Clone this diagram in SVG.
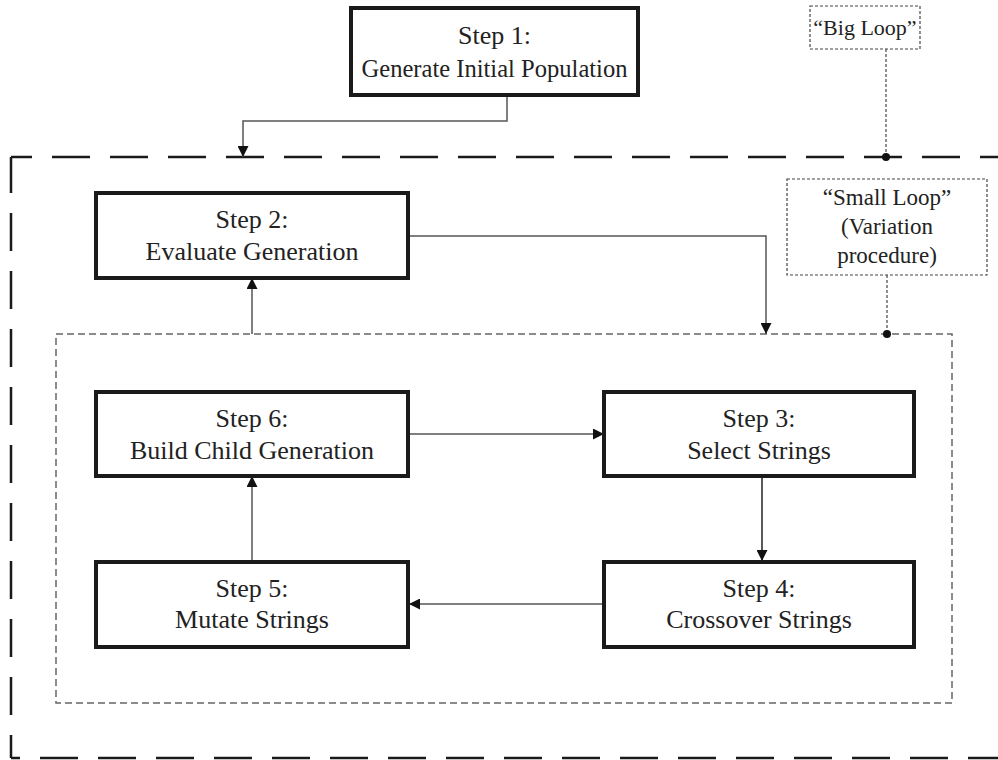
<svg xmlns="http://www.w3.org/2000/svg" width="998" height="760" viewBox="0 0 998 760">
<style>
.box{fill:#fff;stroke:#1a1a1a;stroke-width:4}
.t{font-family:"Liberation Serif","Times New Roman",serif;font-size:26px;fill:#222;text-anchor:middle}
.n{font-family:"Liberation Serif","Times New Roman",serif;font-size:23px;fill:#222;text-anchor:middle}
.c{fill:none;stroke:#555;stroke-width:1.5}
.big{fill:none;stroke:#1a1a1a;stroke-width:2.5;stroke-dasharray:38 20}
.lead{fill:none;stroke:#555;stroke-width:1.3;stroke-dasharray:3 2}
.note{fill:#fff;stroke:#444;stroke-width:1.2;stroke-dasharray:3 2}
</style>
<defs>
<marker id="ah" viewBox="0 0 10 10" refX="10" refY="5" markerWidth="11" markerHeight="11" markerUnits="userSpaceOnUse" orient="auto">
<path d="M0,0 L10,5 L0,10 z" fill="#111"/>
</marker>
</defs>
<g id="big-loop">
<line class="big" x1="11" y1="157" x2="998" y2="157" stroke-dashoffset="17"/>
<line class="big" x1="11" y1="157" x2="11" y2="758" stroke-dashoffset="2"/>
<line class="big" x1="11" y1="758" x2="998" y2="758" stroke-dashoffset="29"/>
</g>
<g id="small-loop">
<rect x="56" y="334" width="896" height="369" fill="none" stroke="#666" stroke-width="1.5" stroke-dasharray="7 4"/>
</g>
<g id="connectors">
<path class="c" d="M507,95 V121 H243 V157" marker-end="url(#ah)"/>
<path class="c" d="M408,236 H766 V334" marker-end="url(#ah)"/>
<path class="c" d="M252,334 V278" marker-end="url(#ah)"/>
<path class="c" d="M408,434 H604" marker-end="url(#ah)"/>
<path class="c" d="M762,476 V561" marker-end="url(#ah)" style="stroke:#222"/>
<path class="c" d="M603,604 H409" marker-end="url(#ah)"/>
<path class="c" d="M252,561 V476" marker-end="url(#ah)"/>
<line class="lead" x1="886" y1="49" x2="886" y2="157"/>
<line class="lead" x1="887" y1="275" x2="887" y2="334"/>
<circle cx="886" cy="157" r="4" fill="#111"/>
<circle cx="887" cy="334" r="4" fill="#111"/>
</g>
<g id="step1">
<rect class="box" x="351" y="8" width="287" height="87"/>
<text class="t" x="494.5" y="44">Step 1:</text>
<text class="t" x="494.5" y="77" textLength="266" lengthAdjust="spacingAndGlyphs">Generate Initial Population</text>
</g>
<g id="big-loop-label">
<rect class="note" x="810" y="6" width="110" height="43"/>
<text class="n" x="865" y="35" style="font-size:22px">“Big Loop”</text>
</g>
<g id="small-loop-label">
<rect class="note" x="787" y="179" width="200" height="96"/>
<text class="n" x="887" y="205">“Small Loop”</text>
<text class="n" x="887" y="234">(Variation</text>
<text class="n" x="887" y="263">procedure)</text>
</g>
<g id="step2">
<rect class="box" x="96" y="193" width="312" height="85"/>
<text class="t" x="252" y="228">Step 2:</text>
<text class="t" x="252" y="260">Evaluate Generation</text>
</g>
<g id="step6">
<rect class="box" x="96" y="392" width="312" height="84"/>
<text class="t" x="252" y="427">Step 6:</text>
<text class="t" x="252" y="459">Build Child Generation</text>
</g>
<g id="step3">
<rect class="box" x="604" y="392" width="310" height="84"/>
<text class="t" x="759" y="427">Step 3:</text>
<text class="t" x="759" y="459">Select Strings</text>
</g>
<g id="step5">
<rect class="box" x="96" y="562" width="312" height="85"/>
<text class="t" x="252" y="597">Step 5:</text>
<text class="t" x="252" y="628">Mutate Strings</text>
</g>
<g id="step4">
<rect class="box" x="604" y="562" width="310" height="85"/>
<text class="t" x="759" y="597">Step 4:</text>
<text class="t" x="759" y="628">Crossover Strings</text>
</g>
</svg>
